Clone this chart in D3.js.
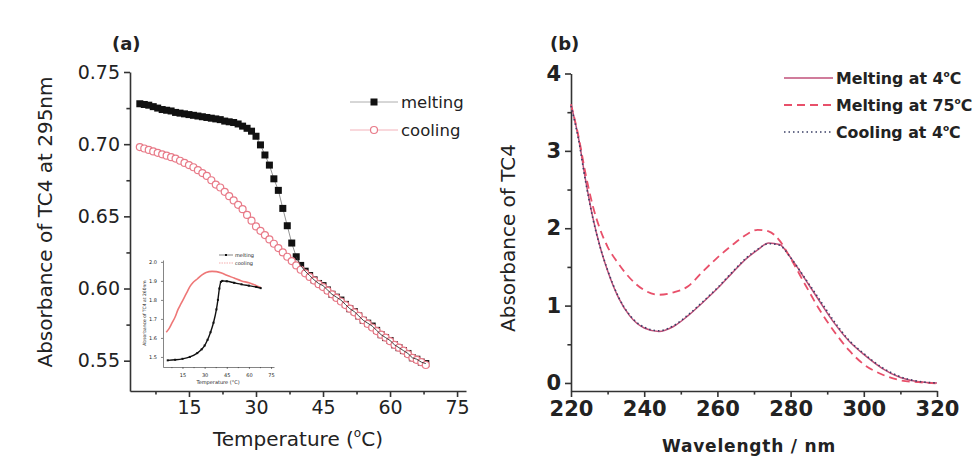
<!DOCTYPE html>
<html>
<head>
<meta charset="utf-8">
<script src="https://cdn.jsdelivr.net/npm/d3@7"></script>
<style>
  body { margin: 0; background: #fff; }
  svg { display: block; }
  text { font-family: "DejaVu Sans", Verdana, sans-serif; fill: #222; }
</style>
</head>
<body>
<svg id="chart" width="979" height="457"></svg>
<script>

// ---------- panel (a): absorbance at 295 nm vs temperature ----------
const tempC = [4, 5, 6, 7, 8, 9, 10, 11, 12, 13, 14, 15, 16, 17, 18, 19, 20, 21, 22, 23, 24, 25,
   26, 27, 28, 29, 30, 31, 32, 33, 34, 35, 36, 37, 38, 39, 40, 41, 42, 43, 44, 45, 46, 47,
   48, 49, 50, 51, 52, 53, 54, 55, 56, 57, 58, 59, 60, 61, 62, 63, 64, 65, 66, 67, 68];

const meltingAbs = [0.728, 0.7275, 0.727, 0.726, 0.725, 0.724, 0.7235, 0.723, 0.722, 0.7215,
   0.721, 0.7205, 0.720, 0.7195, 0.719, 0.7185, 0.718, 0.7175, 0.717, 0.716, 0.7155, 0.715,
   0.714, 0.7125, 0.711, 0.709, 0.7055, 0.6995, 0.6925, 0.6855, 0.676, 0.668, 0.6555, 0.6435,
   0.6315, 0.622, 0.616, 0.612, 0.609, 0.606, 0.6035, 0.602, 0.599, 0.596, 0.594, 0.592,
   0.589, 0.586, 0.584, 0.581, 0.578, 0.576, 0.574, 0.571, 0.568, 0.566, 0.564, 0.561,
   0.559, 0.557, 0.555, 0.552, 0.551, 0.549, 0.548];

const coolingAbs = [0.698, 0.697, 0.696, 0.695, 0.694, 0.693, 0.692, 0.691, 0.690, 0.6885,
   0.687, 0.6855, 0.684, 0.682, 0.680, 0.678, 0.675, 0.672, 0.670, 0.667, 0.664, 0.661,
   0.658, 0.655, 0.651, 0.647, 0.643, 0.640, 0.637, 0.634, 0.631, 0.628, 0.625, 0.622,
   0.619, 0.616, 0.613, 0.6105, 0.608, 0.6055, 0.603, 0.601, 0.5985, 0.596, 0.5935, 0.591,
   0.5885, 0.586, 0.5835, 0.581, 0.578, 0.5755, 0.573, 0.5705, 0.568, 0.566, 0.5635, 0.561,
   0.559, 0.557, 0.5545, 0.552, 0.5505, 0.549, 0.547];

const aTicksX = [15, 30, 45, 60, 75];
const aMinorX = [7.5, 22.5, 37.5, 52.5, 67.5];
const aTicksY = [0.55, 0.60, 0.65, 0.70, 0.75];
const aMinorY = [0.575, 0.625, 0.675, 0.725];

// inset: absorbance at 260 nm vs temperature
const insetTempMelt = [5, 10, 15, 20, 25, 28, 30, 32, 34, 36, 38, 39, 40, 41, 42, 45, 50, 55, 60, 65, 68];
const insetMelt = [1.482, 1.485, 1.49, 1.50, 1.52, 1.54, 1.56, 1.59, 1.63, 1.68, 1.75, 1.80,
   1.86, 1.895, 1.90, 1.898, 1.89, 1.882, 1.875, 1.868, 1.862];
const insetTempCool = [4, 6, 8, 10, 12, 14, 16, 18, 20, 22, 25, 28, 31, 35, 38, 42, 45, 50, 55, 60, 65, 68];
const insetCool = [1.63, 1.65, 1.68, 1.71, 1.75, 1.78, 1.81, 1.84, 1.87, 1.89, 1.91, 1.93,
   1.944, 1.95, 1.949, 1.94, 1.93, 1.915, 1.90, 1.89, 1.875, 1.865];
const insetTicksY = [1.5, 1.6, 1.7, 1.8, 1.9, 2.0];

// ---------- panel (b): UV spectra ----------
const wavelength = [220, 222, 224, 226, 228, 230, 233, 236, 240, 244, 248, 252, 256, 260, 264,
   268, 271, 274, 277, 280, 284, 288, 292, 296, 300, 305, 310, 315, 320];
const melt4 = [3.60, 3.18, 2.62, 2.13, 1.75, 1.45, 1.10, 0.87, 0.71, 0.665, 0.73, 0.87, 1.04,
   1.22, 1.42, 1.61, 1.72, 1.81, 1.79, 1.62, 1.34, 1.05, 0.77, 0.54, 0.37, 0.19, 0.07, 0.015, 0.0];
const melt75 = [3.60, 3.20, 2.70, 2.28, 1.98, 1.76, 1.54, 1.36, 1.20, 1.14, 1.17, 1.25, 1.44,
   1.62, 1.78, 1.92, 1.98, 1.96, 1.84, 1.61, 1.27, 0.94, 0.66, 0.42, 0.24, 0.11, 0.035, 0.01, -0.005];
const cool4 = [3.58, 3.16, 2.60, 2.12, 1.75, 1.46, 1.11, 0.88, 0.72, 0.675, 0.74, 0.88, 1.05,
   1.23, 1.43, 1.62, 1.73, 1.80, 1.78, 1.62, 1.35, 1.07, 0.79, 0.55, 0.38, 0.20, 0.08, 0.02, 0.0];

const bTicksX = [220, 240, 260, 280, 300, 320];
const bMinorX = [230, 250, 270, 290, 310];
const bTicksY = [0, 1, 2, 3, 4];
const bMinorY = [0.5, 1.5, 2.5, 3.5];

const svg = d3.select('#chart');
const axisColor = '#333';

// little helper: major + minor ticks, no outer ticks
const drawAxis = (g, axisFn, scale, major, minor, fmt, size, fontSize, weight) => {
   g.call(axisFn(scale).tickValues(major).tickFormat(fmt).tickSize(size).tickSizeOuter(0).tickPadding(4))
   g.append('g').call(axisFn(scale).tickValues(minor).tickFormat('').tickSize(size * 0.6).tickSizeOuter(0))
    .select('.domain').remove();
   g.selectAll('path, line').attr('stroke', axisColor).attr('stroke-width', size > 3 ? 1.6 : 0.6);
   g.selectAll('text')
    .attr('font-family', '"DejaVu Sans", Verdana, sans-serif')
    .attr('font-size', fontSize)
    .attr('font-weight', weight)
    .attr('fill', '#222');
}

// ===== panel (a) =====
const xa = d3.scaleLinear().domain([1.8, 77]).range([130, 466]);
const ya = d3.scaleLinear().domain([0.529, 0.75]).range([391, 72]);

svg.append('g').attr('transform', 'translate(0,391)')
   .call(g => drawAxis(g, d3.axisBottom, xa, aTicksX, aMinorX, d3.format('d'), 6, '19px', 'normal'));
svg.append('g').attr('transform', 'translate(130,0)')
   .call(g => drawAxis(g, d3.axisLeft, ya, aTicksY, aMinorY, d3.format('.2f'), 6, '19px', 'normal'));

const meltPts = tempC.map((t, i) => ({t: t, v: meltingAbs[i]}));
const coolPts = tempC.map((t, i) => ({t: t, v: coolingAbs[i]}));

const lineA = d3.line().x(d => xa(d.t)).y(d => ya(d.v));

svg.append('path').datum(meltPts)
   .attr('d', lineA).attr('fill', 'none').attr('stroke', '#777').attr('stroke-width', 0.8);

svg.append('g').selectAll('rect')
   .data(meltPts)
   .join('rect')
   .attr('x', d => xa(d.t) - 3.5)
   .attr('y', d => ya(d.v) - 3.5)
   .attr('width', 7)
   .attr('height', 7)
   .attr('fill', '#111');

svg.append('path').datum(coolPts)
   .attr('d', lineA).attr('fill', 'none').attr('stroke', '#f0a0a8').attr('stroke-width', 0.8);

svg.append('g').selectAll('circle')
   .data(coolPts)
   .join('circle')
   .attr('cx', d => xa(d.t))
   .attr('cy', d => ya(d.v))
   .attr('r', 3.5)
   .attr('fill', '#fff')
   .attr('stroke', '#e87a88')
   .attr('stroke-width', 1.2);

// melting line shows through the cooling circles
svg.append('path').datum(meltPts.filter(d => d.t >= 39))
   .attr('d', lineA).attr('fill', 'none').attr('stroke', '#333').attr('stroke-width', 0.9);

// legend (a)
const legA = svg.append('g').attr('transform', 'translate(350,102)');
legA.append('line').attr('x1', 0).attr('x2', 48).attr('y1', 0).attr('y2', 0).attr('stroke', '#999').attr('stroke-width', 0.8);
legA.append('rect').attr('x', 20.5).attr('y', -3.5).attr('width', 7).attr('height', 7).attr('fill', '#111');
legA.append('text').attr('x', 51).attr('y', 5.5).attr('font-size', '16.5px').text('melting');
legA.append('line').attr('x1', 0).attr('x2', 48).attr('y1', 28).attr('y2', 28).attr('stroke', '#f0a0a8').attr('stroke-width', 0.8);
legA.append('circle').attr('cx', 24).attr('cy', 28).attr('r', 3.5).attr('fill', '#fff').attr('stroke', '#e87a88').attr('stroke-width', 1.2);
legA.append('text').attr('x', 51).attr('y', 33.5).attr('font-size', '16.5px').text('cooling');

// axis titles (a)
svg.append('text').attr('x', 112).attr('y', 50).attr('font-size', '18px').attr('font-weight', 'bold').text('(a)');
svg.append('text')
   .attr('transform', 'translate(52,222) rotate(-90)')
   .attr('text-anchor', 'middle').attr('font-size', '20px')
   .text('Absorbance of TC4 at 295nm');
const tA = svg.append('text').attr('x', 298).attr('y', 446).attr('text-anchor', 'middle').attr('font-size', '20px');
tA.append('tspan').text('Temperature (');
tA.append('tspan').attr('font-size', '12px').attr('dy', -9).text('o');
tA.append('tspan').attr('dy', 9).text('C)');

// ===== inset =====
const xi = d3.scaleLinear().domain([1.8, 77]).range([163, 274]);
const yi = d3.scaleLinear().domain([1.447, 2.01]).range([367, 260]);

svg.append('g').attr('transform', 'translate(0,367)')
   .call(g => drawAxis(g, d3.axisBottom, xi, aTicksX, aMinorX, d3.format('d'), 2, '5px', 'normal'));
svg.append('g').attr('transform', 'translate(163,0)')
   .call(g => drawAxis(g, d3.axisLeft, yi, insetTicksY, [], d3.format('.1f'), 2, '5px', 'normal'));

const lineI = d3.line().curve(d3.curveMonotoneX).x(d => xi(d.t)).y(d => yi(d.v));
const insetMeltPts = insetTempMelt.map((t, i) => ({t: t, v: insetMelt[i]}));
const insetCoolPts = insetTempCool.map((t, i) => ({t: t, v: insetCool[i]}));

svg.append('path').datum(insetCoolPts)
   .attr('d', lineI).attr('fill', 'none').attr('stroke', '#ee7777').attr('stroke-width', 1.6);
svg.append('path').datum(insetMeltPts)
   .attr('d', lineI).attr('fill', 'none').attr('stroke', '#111').attr('stroke-width', 1.4);
svg.append('g').selectAll('rect')
   .data(insetMeltPts)
   .join('rect')
   .attr('x', d => xi(d.t) - 1)
   .attr('y', d => yi(d.v) - 1)
   .attr('width', 2).attr('height', 2).attr('fill', '#111');

const legI = svg.append('g').attr('transform', 'translate(219,255)');
legI.append('line').attr('x1', 0).attr('x2', 14).attr('y1', 0).attr('y2', 0).attr('stroke', '#333').attr('stroke-width', 0.6);
legI.append('rect').attr('x', 6).attr('y', -1).attr('width', 2).attr('height', 2).attr('fill', '#111');
legI.append('text').attr('x', 16).attr('y', 1.8).attr('font-size', '5px').text('melting');
legI.append('line').attr('x1', 0).attr('x2', 14).attr('y1', 8).attr('y2', 8).attr('stroke', '#ee7777').attr('stroke-width', 0.6).attr('stroke-dasharray', '1.5,1');
legI.append('text').attr('x', 16).attr('y', 9.8).attr('font-size', '5px').text('cooling');

svg.append('text')
   .attr('transform', 'translate(146,313) rotate(-90)')
   .attr('text-anchor', 'middle').attr('font-size', '4.5px')
   .text('Absorbance of TC4 at 260nm');
svg.append('text').attr('x', 218).attr('y', 384).attr('text-anchor', 'middle').attr('font-size', '5px')
   .text('Temperature (°C)');

// ===== panel (b) =====
const xb = d3.scaleLinear().domain([220, 320]).range([571, 937]);
const yb = d3.scaleLinear().domain([-0.1, 4]).range([390.7, 73.5]);

svg.append('g').attr('transform', 'translate(0,391)')
   .call(g => drawAxis(g, d3.axisBottom, xb, bTicksX, bMinorX, d3.format('d'), 6, '21px', 'bold'));
svg.append('g').attr('transform', 'translate(571,0)')
   .call(g => drawAxis(g, d3.axisLeft, yb, bTicksY, bMinorY, d3.format('d'), 6, '21px', 'bold'));

const lineB = d3.line().curve(d3.curveMonotoneX).x((d, i) => xb(wavelength[i])).y(d => yb(d));

const spectra = [
   {name: 'Melting at 4', values: melt4, color: '#c0507a', dash: null, width: 1.5},
   {name: 'Melting at 75', values: melt75, color: '#e8506a', dash: '8,5', width: 1.8},
   {name: 'Cooling at 4', values: cool4, color: '#3a3f66', dash: '1.5,3', width: 1.6}
];

svg.append('g').selectAll('path')
   .data(spectra)
   .join('path')
   .attr('d', d => lineB(d.values))
   .attr('fill', 'none')
   .attr('stroke', d => d.color)
   .attr('stroke-width', d => d.width)
   .attr('stroke-dasharray', d => d.dash);

// legend (b)
const legB = svg.append('g').attr('transform', 'translate(784,78)');
spectra.forEach((s, i) => {
   const row = legB.append('g').attr('transform', `translate(0,${i * 27})`);
   row.append('line').attr('x1', 0).attr('x2', 49).attr('y1', 0).attr('y2', 0)
      .attr('stroke', s.color).attr('stroke-width', s.width).attr('stroke-dasharray', s.dash);
   const t = row.append('text').attr('x', 52).attr('y', 6).attr('font-size', '15.8px').attr('font-weight', 'bold');
   t.append('tspan').text(s.name);
   t.append('tspan').attr('font-size', '9px').attr('dy', -7).text('o');
   t.append('tspan').attr('dy', 7).text('C');
});

svg.append('text').attr('x', 550).attr('y', 50).attr('font-size', '18px').attr('font-weight', 'bold').text('(b)');
svg.append('text')
   .attr('transform', 'translate(515,238) rotate(-90)')
   .attr('text-anchor', 'middle').attr('font-size', '20px')
   .text('Absorbance of TC4');
svg.append('text').attr('x', 749).attr('y', 452).attr('text-anchor', 'middle')
   .attr('font-size', '17px').attr('font-weight', 'bold').attr('letter-spacing', '0.8px')
   .text('Wavelength / nm');

</script>
</body>
</html>
